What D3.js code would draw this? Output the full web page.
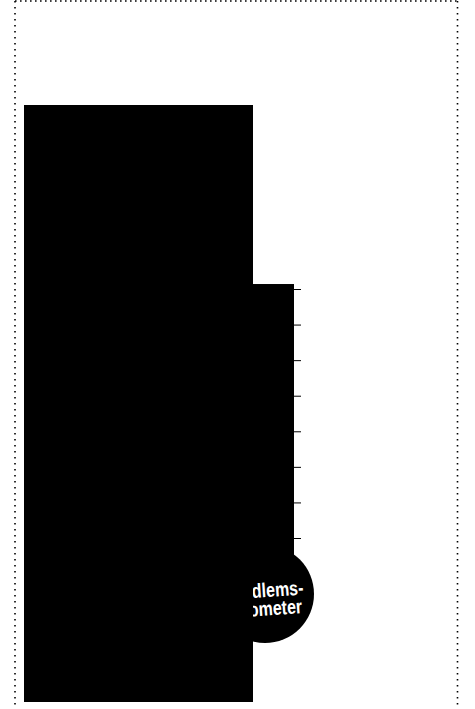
<!DOCTYPE html>
<html>
<head>
<meta charset="utf-8">
<script src="https://cdn.jsdelivr.net/npm/d3@7"></script>
<style>
  body { margin: 0; background: #fff; }
  svg { display: block; }
</style>
</head>
<body>
<div id="chart"></div>
<script>
// Data
const tickValues = [0, 100, 200, 300, 400, 500, 600, 700]
const memberCount = [714]
const bulbLabel = ['Medlems-', 'barometer']

// Dimension
let dimension = {
    width: 475,
    height: 709,
    frame: { left: 15, top: 1, right: 457.5 },
    tube: { cx: 265, halfWidth: 29, bottom: 555 },
    bulb: { cy: 594, r: 49 },
    panel: { x: 24, y: 105, width: 229, height: 597 }
}

const svg = d3.select('#chart')
    .append('svg')
    .attr('width', dimension.width)
    .attr('height', dimension.height)

// Dotted frame
const frame = svg.append('g')
    .attr('stroke', '#000')
    .attr('stroke-width', 1.6)
    .attr('fill', 'none')

frame.append('line')
    .attr('x1', dimension.frame.left).attr('x2', dimension.frame.right)
    .attr('y1', dimension.frame.top).attr('y2', dimension.frame.top)
    .attr('stroke-dasharray', '1.6 3.4')

frame.selectAll('line.side')
    .data([dimension.frame.left, dimension.frame.right])
    .join('line')
    .attr('class', 'side')
    .attr('x1', d => d).attr('x2', d => d)
    .attr('y1', dimension.frame.top).attr('y2', dimension.height + 10)
    .attr('stroke-dasharray', '1.6 4.4')

// Scale
const yScale = d3.scaleLinear()
    .domain([0, 700])
    .range([538, 289])

// Thermometer
const ctr = svg.append('g')

ctr.selectAll('rect.fill')
    .data(memberCount)
    .join('rect')
    .attr('class', 'fill')
    .attr('x', dimension.tube.cx - dimension.tube.halfWidth)
    .attr('y', d => yScale(d))
    .attr('width', dimension.tube.halfWidth * 2)
    .attr('height', d => dimension.tube.bottom - yScale(d))
    .attr('fill', '#000')

ctr.append('circle')
    .attr('cx', dimension.tube.cx)
    .attr('cy', dimension.bulb.cy)
    .attr('r', dimension.bulb.r)
    .attr('fill', '#000')

// condensed bold label, slightly tilted
ctr.append('text')
    .attr('transform', `translate(${dimension.tube.cx + 2}, ${dimension.bulb.cy + 3}) rotate(-4) scale(0.8, 1)`)
    .attr('fill', '#fff')
    .attr('font-family', '"Liberation Sans", Arial, sans-serif')
    .attr('font-weight', 'bold')
    .attr('font-size', 20)
    .attr('text-anchor', 'middle')
    .selectAll('tspan')
    .data(bulbLabel)
    .join('tspan')
    .attr('x', (d, i) => i * -6)
    .attr('y', (d, i) => i * 18.5)
    .text(d => d)

// Axis
const yAxis = d3.axisRight(yScale)
    .tickValues(tickValues)
    .tickSize(7)
    .tickFormat('')

const yAxisGroup = ctr.append('g')
    .attr('transform', `translate(${dimension.tube.cx + dimension.tube.halfWidth}, 0)`)
    .call(yAxis)

yAxisGroup.select('.domain').remove()
yAxisGroup.selectAll('.tick line').attr('stroke', '#000')

// Panel over the left side
svg.append('rect')
    .attr('x', dimension.panel.x)
    .attr('y', dimension.panel.y)
    .attr('width', dimension.panel.width)
    .attr('height', dimension.panel.height)
    .attr('fill', '#000')
</script>
</body>
</html>
